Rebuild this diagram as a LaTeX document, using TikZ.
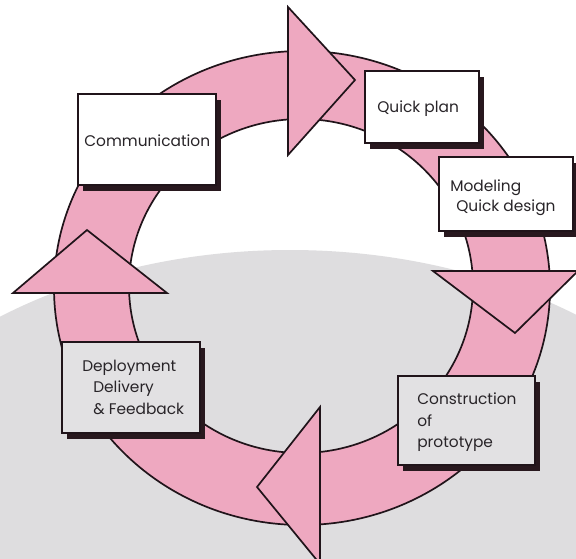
\documentclass[tikz,border=0pt]{standalone}
\usepackage{fontspec}
\setmainfont{Poppins}
\usetikzlibrary{calc,shadows}

\definecolor{ringpink}{RGB}{238,168,192}
\definecolor{inkc}{RGB}{32,20,26}
\definecolor{shadowc}{RGB}{40,24,30}
\definecolor{textc}{RGB}{40,36,40}
\definecolor{washgrey}{RGB}{222,221,223}
\definecolor{boxgrey}{RGB}{226,225,227}

\tikzset{
  ringline/.style={draw=inkc, line width=1.7pt},
  headshape/.style={fill=ringpink, draw=inkc, line width=1.7pt, line join=miter},
  stagebox/.style={draw=inkc, fill=white, line width=1.8pt, inner sep=0pt,
    drop shadow={shadow xshift=5pt, shadow yshift=-6pt, fill=shadowc, opacity=1}},
  label/.style={text=textc, anchor=base west, inner sep=0pt,
    font=\fontsize{15.4}{18}\selectfont}
}

\begin{document}
\begin{tikzpicture}[x=1pt,y=-1pt]
\useasboundingbox (0,0) rectangle (576,558);
\begin{scope}
  \clip (0,0) rectangle (576,558);
  \fill[white] (0,0) rectangle (576,558);
  % soft grey wash behind the lower half
  \fill[washgrey] (290,610) ellipse [x radius=500pt, y radius=360pt];

  % the cycle ring
  \path[fill=ringpink, even odd rule]
    (302,288) ellipse [x radius=248pt, y radius=237pt]
    (301,286) ellipse [x radius=172pt, y radius=167pt];
  \draw[ringline] (302,288) ellipse [x radius=248pt, y radius=237pt];
  \draw[ringline] (301,286) ellipse [x radius=172pt, y radius=167pt];

  % arrowheads, clockwise
  \filldraw[headshape] (288,7)   -- (355,80)  -- (288,155) -- cycle;
  \filldraw[headshape] (433,271) -- (578,271) -- (515,333) -- cycle;
  \filldraw[headshape] (320,407) -- (320,564) -- (257,487) -- cycle;
  \filldraw[headshape] (13,293)  -- (167,293) -- (87,230)  -- cycle;
\end{scope}

% stage boxes
\node[stagebox, minimum width=138pt, minimum height=91pt] (comm)   at (147,139.5) {};
\node[stagebox, minimum width=114pt, minimum height=72pt] (plan)   at (422,107) {};
\node[stagebox, minimum width=134pt, minimum height=74pt] (model)  at (506,194) {};
\node[stagebox, fill=boxgrey, minimum width=137pt, minimum height=89pt] (constr) at (466.5,420.5) {};
\node[stagebox, fill=boxgrey, minimum width=138pt, minimum height=91pt] (deploy) at (131,387.5) {};

% box texts
\node[label] (tcomm) at ($(comm.north west)+(7,53)$) {Communication};
\node[label] (tplan) at ($(plan.north west)+(13,42)$) {Quick plan};
\node[label] (tmod1) at ($(model.north west)+(12,35)$) {Modeling};
\node[label] (tmod2) at ($(model.north west)+(18,55)$) {Quick design};
\node[label] (tcon1) at ($(constr.north west)+(20,29)$) {Construction};
\node[label] (tcon2) at ($(constr.north west)+(20,51)$) {of};
\node[label] (tcon3) at ($(constr.north west)+(20,72)$) {prototype};
\node[label] (tdep1) at ($(deploy.north west)+(21,30)$) {Deployment};
\node[label] (tdep2) at ($(deploy.north west)+(32,51)$) {Delivery};
\node[label] (tdep3) at ($(deploy.north west)+(32,73)$) {\& Feedback};
\end{tikzpicture}
\end{document}
